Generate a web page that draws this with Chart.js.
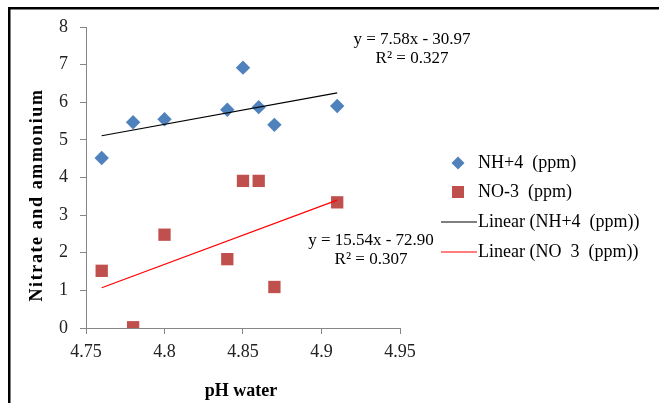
<!DOCTYPE html>
<html>
<head>
<meta charset="utf-8">
<script src="https://cdn.jsdelivr.net/npm/chart.js@4/dist/chart.umd.min.js"></script>
<style>
  html, body { margin: 0; padding: 0; background: #fff; }
  #wrap { width: 659px; height: 403px; }
</style>
</head>
<body>
<div id="wrap"><canvas id="c" width="659" height="403"></canvas></div>
<script>
// ---- data ----
const phValues = [4.76, 4.78, 4.80, 4.84, 4.85, 4.86, 4.87, 4.91];
const nh4Values = [4.52, 5.47, 5.55, 5.80, 6.92, 5.87, 5.40, 5.90];
const no3Values = [1.52, 0.02, 2.48, 1.83, 3.91, 3.91, 1.09, 3.34];
const trendX = [4.76, 4.91];
const nh4Trend = [5.11, 6.25];
const no3Trend = [1.07, 3.40];
const xTickLabels = ['4.75', '4.8', '4.85', '4.9', '4.95'];
const yTickLabels = ['0', '1', '2', '3', '4', '5', '6', '7', '8'];
const seriesNames = ['NH+4  (ppm)', 'NO-3  (ppm)', 'Linear (NH+4  (ppm))', 'Linear (NO  3  (ppm))'];
const eqNH4 = ['y = 7.58x - 30.97', 'R² = 0.327'];
const eqNO3 = ['y = 15.54x - 72.90', 'R² = 0.307'];
const xTitle = 'pH water';
const yTitle = 'Nitrate and ammonium';

const toPts = (xs, ys) => xs.map((x, i) => ({ x: x, y: ys[i] }));

const SERIF = "'Liberation Serif', 'Times New Roman', serif";
const BLUE = '#4F81BD', RED = '#C0504D', AXIS = '#868686';

const decor = {
  id: 'decor',
  beforeDraw(chart) {
    const ctx = chart.ctx;
    ctx.save();
    ctx.fillStyle = '#fff';
    ctx.fillRect(0, 0, chart.width, chart.height);
    ctx.restore();
  },
  afterDraw(chart) {
    const ctx = chart.ctx;
    ctx.save();
    // outer frame (top + left)
    ctx.fillStyle = '#000';
    ctx.fillRect(8, 7, chart.width - 8, 2.5);
    ctx.fillRect(8, 7, 2.5, chart.height - 7);

    // axis titles
    ctx.fillStyle = '#000';
    ctx.font = 'bold 18px ' + SERIF;
    ctx.textAlign = 'center';
    ctx.textBaseline = 'middle';
    ctx.fillText(xTitle, 241, 391);
    ctx.save();
    ctx.translate(37, 195);
    ctx.rotate(-Math.PI / 2);
    try { ctx.letterSpacing = '1.6px'; } catch (e) {}
    ctx.fillText(yTitle, 0, 0);
    try { ctx.letterSpacing = '0px'; } catch (e) {}
    ctx.restore();

    // trendline equations
    ctx.font = '17px ' + SERIF;
    ctx.fillStyle = '#000';
    ctx.textAlign = 'center';
    ctx.fillText(eqNH4[0], 412, 40);
    ctx.fillText(eqNH4[1], 412, 59);
    ctx.fillText(eqNO3[0], 371, 241);
    ctx.fillText(eqNO3[1], 371, 260);

    // legend
    const ds = chart.data.datasets;
    ctx.font = '18px ' + SERIF;
    ctx.textAlign = 'left';
    const lx = 478;
    const rows = [163, 192, 222, 252];
    ctx.fillStyle = ds[0].backgroundColor;
    ctx.beginPath();
    ctx.moveTo(458, rows[0] - 6.5); ctx.lineTo(464.5, rows[0]); ctx.lineTo(458, rows[0] + 6.5); ctx.lineTo(451.5, rows[0]);
    ctx.closePath(); ctx.fill();
    ctx.fillStyle = ds[1].backgroundColor;
    ctx.fillRect(452, rows[1] - 6, 12, 12);
    ctx.lineWidth = 1.2;
    ctx.strokeStyle = ds[2].borderColor;
    ctx.beginPath(); ctx.moveTo(441, rows[2]); ctx.lineTo(477, rows[2]); ctx.stroke();
    ctx.strokeStyle = ds[3].borderColor;
    ctx.beginPath(); ctx.moveTo(441, rows[3]); ctx.lineTo(477, rows[3]); ctx.stroke();
    ctx.fillStyle = '#000';
    seriesNames.forEach((n, i) => ctx.fillText(n, lx, rows[i]));
    ctx.restore();
  }
};

new Chart(document.getElementById('c'), {
  type: 'scatter',
  data: {
    datasets: [
      { label: seriesNames[0], data: toPts(phValues, nh4Values), backgroundColor: BLUE, borderColor: BLUE,
        pointStyle: 'rectRot', pointRadius: 7.2, pointBorderWidth: 0, order: 1 },
      { label: seriesNames[1], data: toPts(phValues, no3Values), backgroundColor: RED, borderColor: RED,
        pointStyle: 'rect', pointRadius: 8.7, pointBorderWidth: 0, order: 1 },
      { label: seriesNames[2], type: 'line', data: toPts(trendX, nh4Trend), borderColor: '#000',
        backgroundColor: '#000', borderWidth: 1.2, pointRadius: 0, showLine: true, fill: false, order: 0 },
      { label: seriesNames[3], type: 'line', data: toPts(trendX, no3Trend), borderColor: '#FF0000',
        backgroundColor: '#FF0000', borderWidth: 1.2, pointRadius: 0, showLine: true, fill: false, order: 0 }
    ]
  },
  options: {
    responsive: false,
    animation: false,
    devicePixelRatio: 1,
    layout: { padding: { top: 27, right: 259, bottom: 0, left: 0 } },
    plugins: { legend: { display: false }, tooltip: { enabled: false } },
    scales: {
      x: {
        type: 'linear', min: 4.75, max: 4.95,
        afterBuildTicks(s) { s.ticks = xTickLabels.map(v => ({ value: parseFloat(v) })); },
        afterFit(s) { s.height = 75; },
        grid: { drawOnChartArea: false, drawTicks: true, tickLength: 6, color: AXIS },
        border: { display: true, color: AXIS, width: 1 },
        ticks: {
          padding: 7, color: '#222', font: { family: SERIF, size: 18 },
          maxRotation: 0, autoSkip: false,
          callback: (v, i) => xTickLabels[i]
        }
      },
      y: {
        type: 'linear', min: 0, max: 8,
        afterBuildTicks(s) { s.ticks = yTickLabels.map(v => ({ value: parseFloat(v) })); },
        afterFit(s) { s.width = 86; },
        grid: { drawOnChartArea: false, drawTicks: true, tickLength: 6, color: AXIS },
        border: { display: true, color: AXIS, width: 1 },
        ticks: {
          padding: 12, color: '#222', font: { family: SERIF, size: 18 },
          autoSkip: false,
          callback: (v, i) => yTickLabels[i]
        }
      }
    }
  },
  plugins: [decor]
});
</script>
</body>
</html>
